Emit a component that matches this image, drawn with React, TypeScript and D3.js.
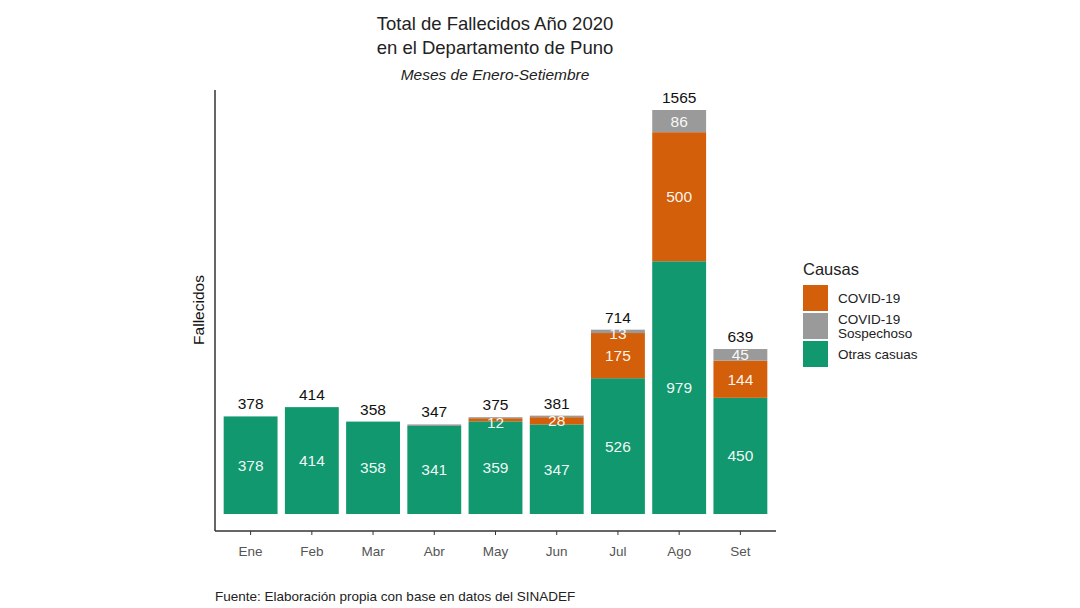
import React, { useEffect, useRef } from 'react';
import * as d3 from 'd3';

const months = ['Ene', 'Feb', 'Mar', 'Abr', 'May', 'Jun', 'Jul', 'Ago', 'Set'];
const otras = [378, 414, 358, 341, 359, 347, 526, 979, 450];
const covid = [0, 0, 0, 0, 12, 28, 175, 500, 144];
const sospechoso = [0, 0, 0, 6, 4, 6, 13, 86, 45];
const totals = [378, 414, 358, 347, 375, 381, 714, 1565, 639];

const keys = ['otras', 'covid', 'sospechoso'];
const legendLabels = [['COVID-19'], ['COVID-19', 'Sospechoso'], ['Otras casuas']];
const colors: Record<string, string> = {
  otras: '#12986f',
  covid: '#d35f0a',
  sospechoso: '#9a9a9a',
};

const W = 1080;
const H = 608;
const font = '"Liberation Sans", Arial, sans-serif';

const App: React.FC = () => {
  const svgRef = useRef<SVGSVGElement | null>(null);

  useEffect(() => {
    if (!svgRef.current) return;
    const svg = d3.select(svgRef.current);
    svg.selectAll('*').remove();

    const rows = months.map((m, i) => ({
      month: m,
      otras: otras[i],
      covid: covid[i],
      sospechoso: sospechoso[i],
    }));

    const x = d3.scaleBand().domain(months).range([220, 771]).paddingInner(0.12).paddingOuter(0.06);
    const y = d3.scaleLinear().domain([0, d3.max(totals) as number]).range([514, 110]);

    const stack = d3.stack<any>().keys(keys)(rows);

    // barras apiladas
    const layers = svg.append('g').selectAll('g').data(stack).enter().append('g')
      .attr('fill', (d) => colors[d.key]);
    layers.selectAll('rect').data((d) => d).enter().append('rect')
      .attr('x', (d: any) => x(d.data.month) as number)
      .attr('width', x.bandwidth())
      .attr('y', (d) => y(d[1]))
      .attr('height', (d) => y(d[0]) - y(d[1]));

    // etiquetas de cada segmento
    stack.forEach((layer) => {
      layer.forEach((d: any) => {
        const v = d[1] - d[0];
        if (v < 10) return;
        const small = v < 20;
        svg.append('text')
          .attr('x', (x(d.data.month) as number) + x.bandwidth() / 2)
          .attr('y', (y(d[0]) + y(d[1])) / 2 + (small ? 8 : 5.5))
          .attr('text-anchor', 'middle')
          .attr('font-family', font)
          .attr('font-size', 15.5)
          .attr('fill', '#ffffff')
          .attr('fill-opacity', 0.95)
          .text(v);
      });
    });

    // totales
    svg.append('g').selectAll('text').data(totals).enter().append('text')
      .attr('x', (_d, i) => (x(months[i]) as number) + x.bandwidth() / 2)
      .attr('y', (d) => y(d) - 7)
      .attr('text-anchor', 'middle')
      .attr('font-family', font)
      .attr('font-size', 15.5)
      .attr('fill', '#111')
      .text((d) => d);

    // ejes
    const axisColor = '#333';
    svg.append('line').attr('x1', 215).attr('x2', 215).attr('y1', 90).attr('y2', 531)
      .attr('stroke', axisColor).attr('stroke-width', 1.5);
    svg.append('line').attr('x1', 215).attr('x2', 776).attr('y1', 531).attr('y2', 531)
      .attr('stroke', axisColor).attr('stroke-width', 1.5);
    const xg = svg.append('g');
    months.forEach((m) => {
      const cx = (x(m) as number) + x.bandwidth() / 2;
      xg.append('line').attr('x1', cx).attr('x2', cx).attr('y1', 531).attr('y2', 535)
        .attr('stroke', axisColor).attr('stroke-width', 1);
      xg.append('text').attr('x', cx).attr('y', 556).attr('text-anchor', 'middle')
        .attr('font-family', font).attr('font-size', 13.5).attr('fill', '#555').text(m);
    });

    // título del eje y
    svg.append('text')
      .attr('transform', 'translate(204,310) rotate(-90)')
      .attr('text-anchor', 'middle')
      .attr('font-family', font).attr('font-size', 15.5).attr('fill', '#111')
      .text('Fallecidos');

    // títulos
    svg.append('text').attr('x', 495).attr('y', 30).attr('text-anchor', 'middle')
      .attr('font-family', font).attr('font-size', 18.5).attr('fill', '#222')
      .text('Total de Fallecidos Año 2020');
    svg.append('text').attr('x', 495).attr('y', 54).attr('text-anchor', 'middle')
      .attr('font-family', font).attr('font-size', 18.5).attr('fill', '#222')
      .text('en el Departamento de Puno');
    svg.append('text').attr('x', 495).attr('y', 80).attr('text-anchor', 'middle')
      .attr('font-family', font).attr('font-size', 15.5).attr('font-style', 'italic').attr('fill', '#222')
      .text('Meses de Enero-Setiembre');

    // leyenda
    const lg = svg.append('g').attr('transform', 'translate(803,0)');
    lg.append('text').attr('x', 0).attr('y', 275).attr('font-family', font)
      .attr('font-size', 16.5).attr('fill', '#222').text('Causas');
    const legendKeys = ['covid', 'sospechoso', 'otras'];
    legendKeys.forEach((k, i) => {
      const top = 285 + i * 28;
      lg.append('rect').attr('x', 0).attr('y', top).attr('width', 25).attr('height', 26)
        .attr('fill', colors[k]);
      const lines = legendLabels[i];
      lines.forEach((t, j) => {
        lg.append('text')
          .attr('x', 35)
          .attr('y', top + 18 + (j - (lines.length - 1) / 2) * 14)
          .attr('font-family', font).attr('font-size', 13.5).attr('fill', '#222')
          .text(t);
      });
    });

    // fuente
    svg.append('text').attr('x', 215).attr('y', 601).attr('font-family', font)
      .attr('font-size', 13.5).attr('fill', '#222')
      .text('Fuente: Elaboración propia con base en datos del SINADEF');
  }, []);

  return (
    <svg ref={svgRef} width={W} height={H}
      style={{ position: 'absolute', left: 0, top: 0, background: '#fff' }} />
  );
};

export default App;
